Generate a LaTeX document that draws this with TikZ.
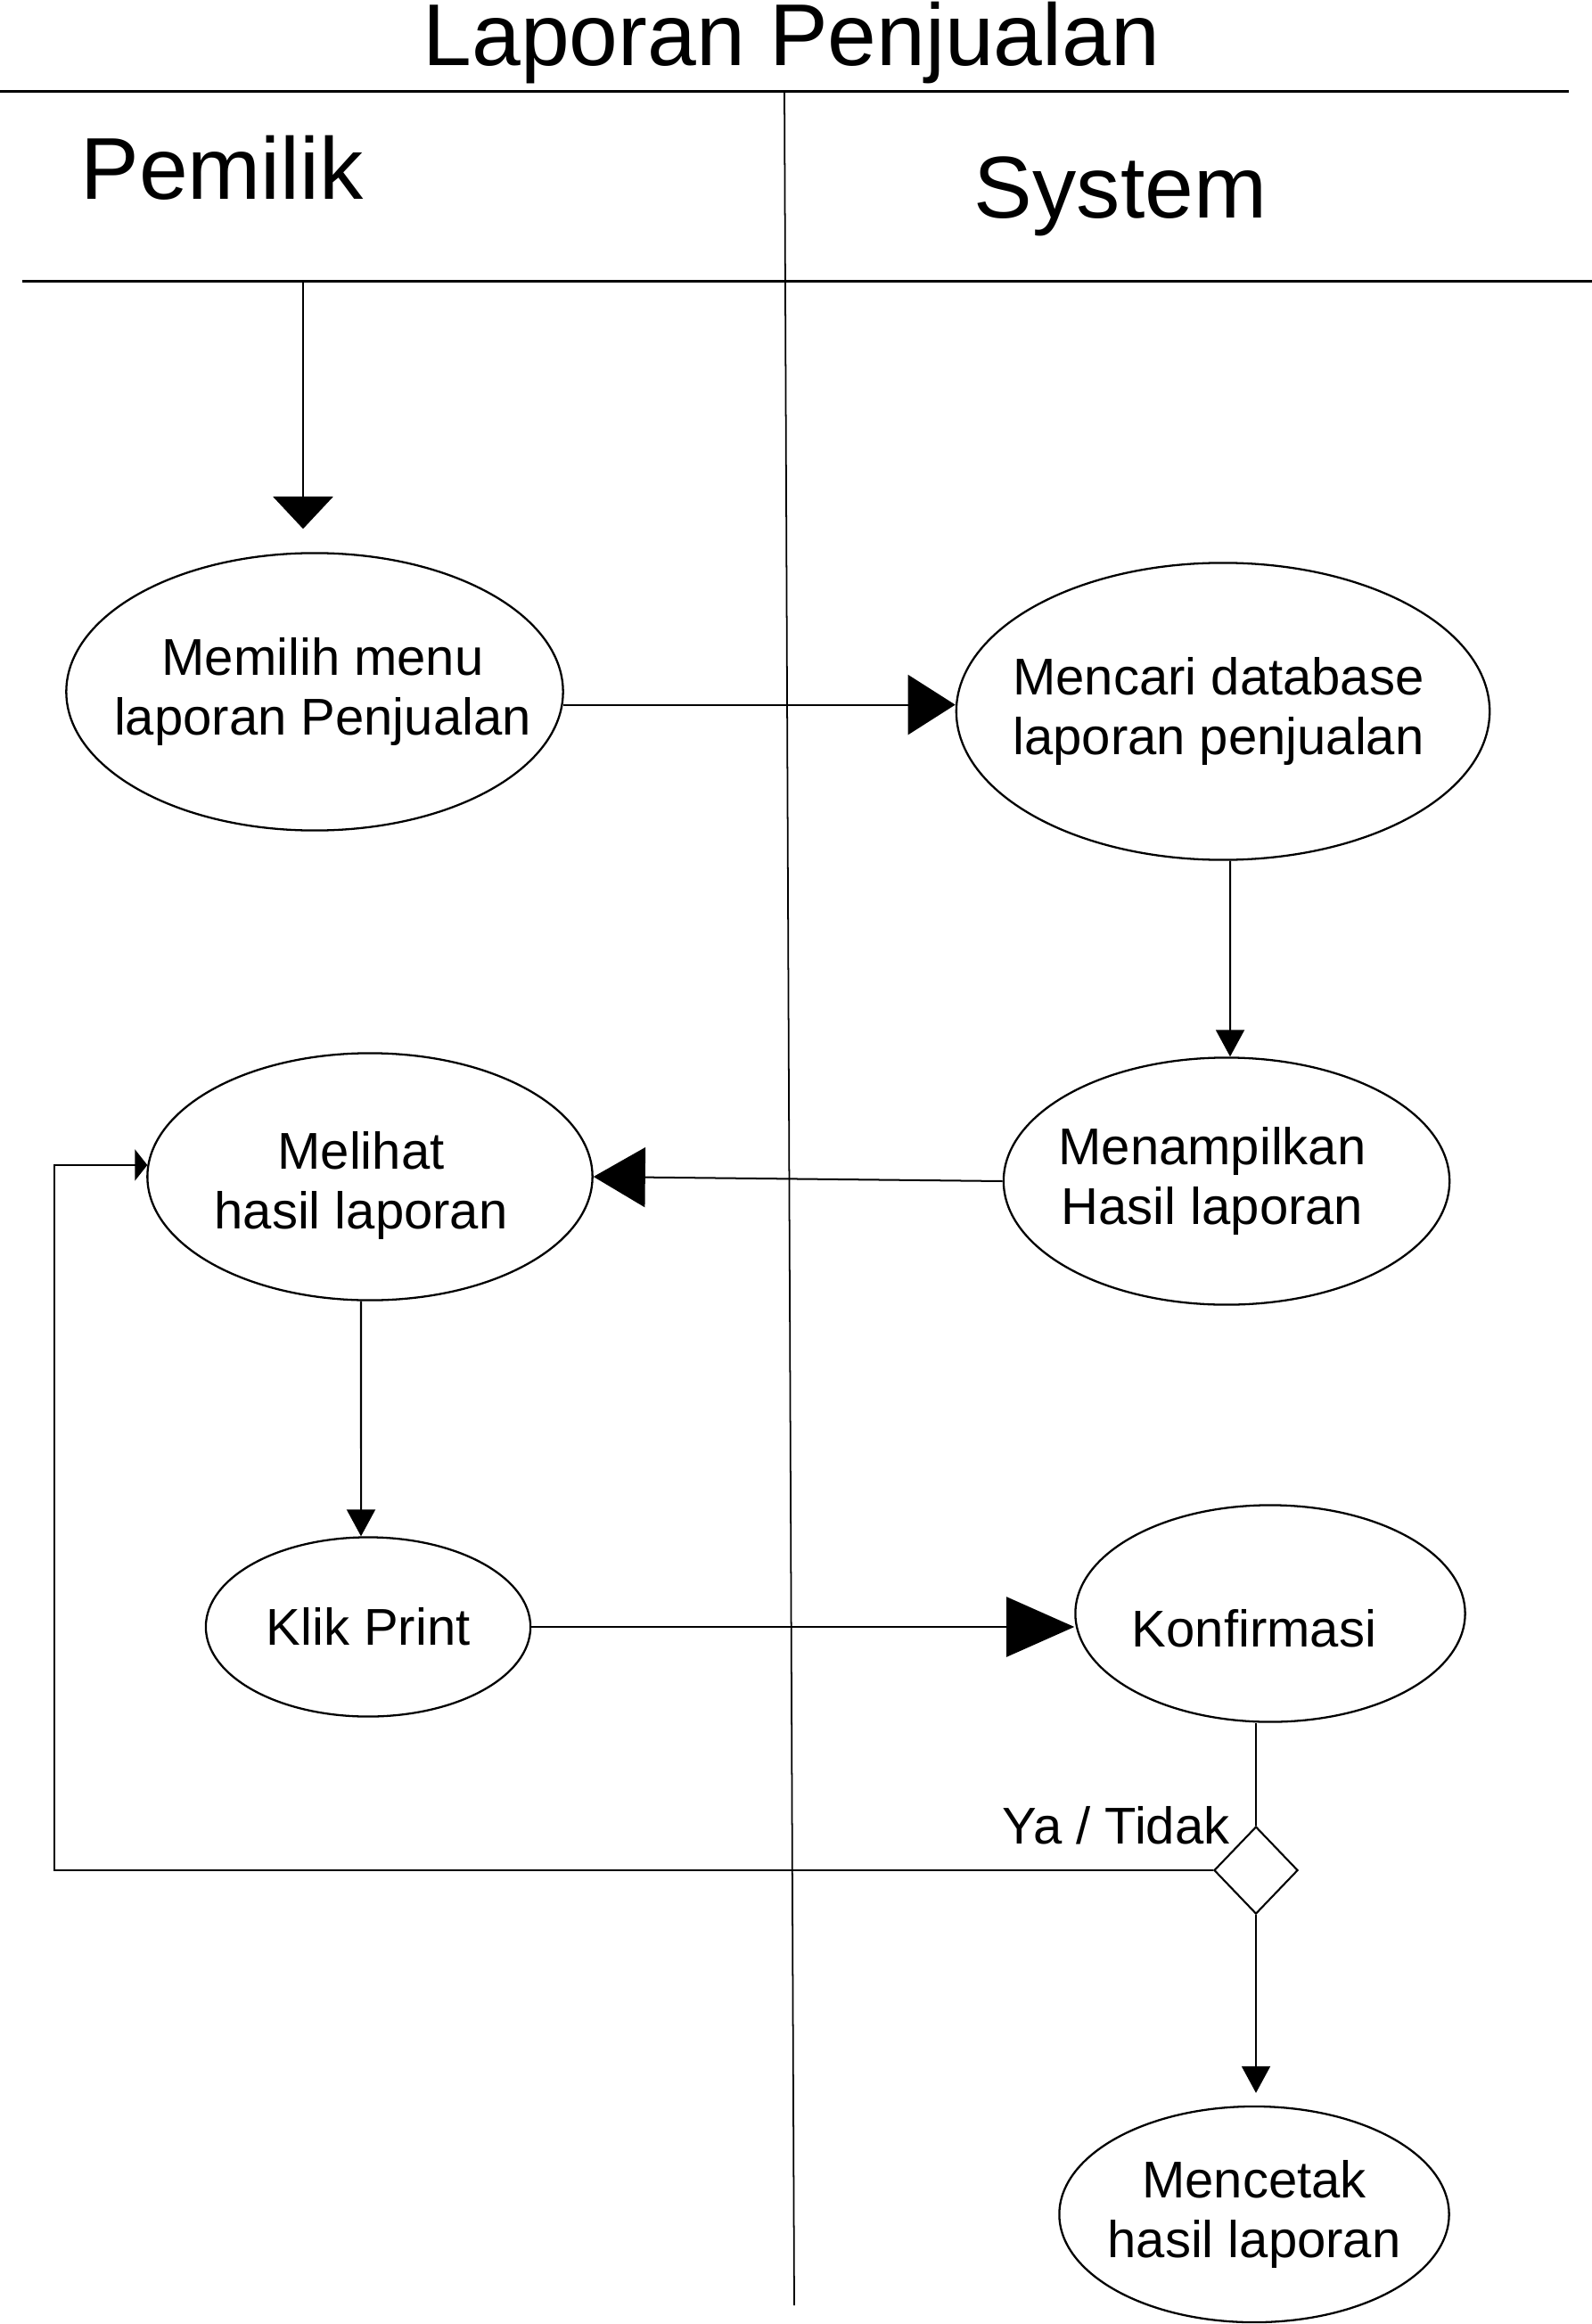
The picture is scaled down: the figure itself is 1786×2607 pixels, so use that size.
\documentclass[tikz,border=0pt]{standalone}
\usepackage{fontspec}
\setmainfont{Liberation Sans}
\usetikzlibrary{positioning, calc, shapes.geometric, arrows.meta}

\begin{document}
\begin{tikzpicture}[x=0.01cm, y=-0.01cm]
        % Define block styles
        \tikzstyle{activity} = [ellipse, draw, line width=0.65pt, inner sep=0pt]
        \tikzstyle{decision} = [diamond, draw, line width=0.6pt, minimum width=0.94cm, minimum height=0.98cm, inner sep=0pt]
        \tikzstyle{words} = [align=center, inner sep=0pt, font=\fontsize{16.5}{18.8}\selectfont]
        \tikzstyle{lane} = [anchor=base, inner sep=0pt, font=\fontsize{28}{32}\selectfont]
        \tikzstyle{flow} = [line width=0.57pt]
        \tikzstyle{small} = [flow, -{Triangle[width=0.32cm, length=0.3cm]}]

        \useasboundingbox (0,0) rectangle (1786,2607);

        % Lanes
        \draw [line width=0.85pt] (0,103) -- (1760,103);
        \draw [line width=0.85pt] (25,316) -- (1786,316);
        \draw [line width=0.5pt] (880,103) -- (891,2586);
        \node [lane] (judul) at (888,74) {Laporan Penjualan};
        \node [lane] (pemilik) at (249,224) {Pemilik};
        \node [lane] (system) at (1257,245) {System};

        % Place nodes
        \coordinate (mulai) at (340,316);
        \node [activity, minimum width=5.57cm, minimum height=3.11cm, label={[words, xshift=0.09cm]center:Memilih menu\\laporan Penjualan}] (memilih) at (353,776) {};
        \node [activity, minimum width=5.98cm, minimum height=3.33cm, label={[words, xshift=-0.05cm]center:Mencari database\\laporan penjualan}] (mencari) at (1372,798) {};
        \node [activity, minimum width=5.00cm, minimum height=2.77cm, label={[words, xshift=-0.16cm]center:Menampilkan\\Hasil laporan}] (menampilkan) at (1376,1325) {};
        \node [activity, minimum width=4.99cm, minimum height=2.77cm, label={[words, xshift=-0.1cm, yshift=-0.1cm]center:Melihat\\hasil laporan}] (melihat) at (415,1320) {};
        \node [activity, minimum width=3.64cm, minimum height=2.01cm, label={[words]center:Klik Print}] (klik) at (413,1825) {};
        \node [activity, minimum width=4.37cm, minimum height=2.43cm, label={[words, xshift=-0.18cm, yshift=-0.17cm]center:Konfirmasi}] (konfirmasi) at (1425,1810) {};
        \node [decision] (keputusan) at (1409,2098) {};
        \coordinate (kiri) at (61,2098);
        \node [activity, minimum width=4.37cm, minimum height=2.42cm, label={[words]center:Mencetak\\hasil laporan}] (mencetak) at (1407,2484) {};

        % Draw connections as arrows
        \draw [flow, -{Triangle[width=0.67cm, length=0.36cm]}, shorten >=0.26cm] (mulai) -- (mulai |- memilih.north);
        \draw [flow, -{Triangle[width=0.67cm, length=0.53cm]}] (memilih.-3) -- (memilih.-3 -| mencari.west);
        \draw [small] ([xshift=0.08cm]mencari.south) -- ([xshift=0.04cm]menampilkan.north);
        \draw [flow, -{Triangle[width=0.67cm, length=0.58cm]}] (menampilkan.west) -- (melihat.east);
        \draw [small] ([xshift=-0.1cm]melihat.south) -- ([xshift=-0.08cm]klik.north);
        \draw [flow, -{Triangle[width=0.67cm, length=0.76cm]}] (klik.east) -- (klik.east -| konfirmasi.west);
        \draw [flow] (keputusan.north |- konfirmasi.south) -- (keputusan.north);
        \draw [small, shorten >=0.14cm] (keputusan.south) -- (keputusan.south |- mencetak.north);
        \draw [flow, -{Triangle[width=0.35cm, length=0.14cm]}] (keputusan.west) -- (kiri) |- (melihat.177);

        % Add text on the arrows
        \node [words, anchor=base] (yatidak) at (1252,2068) {Ya / Tidak};
    \end{tikzpicture}
\end{document}
